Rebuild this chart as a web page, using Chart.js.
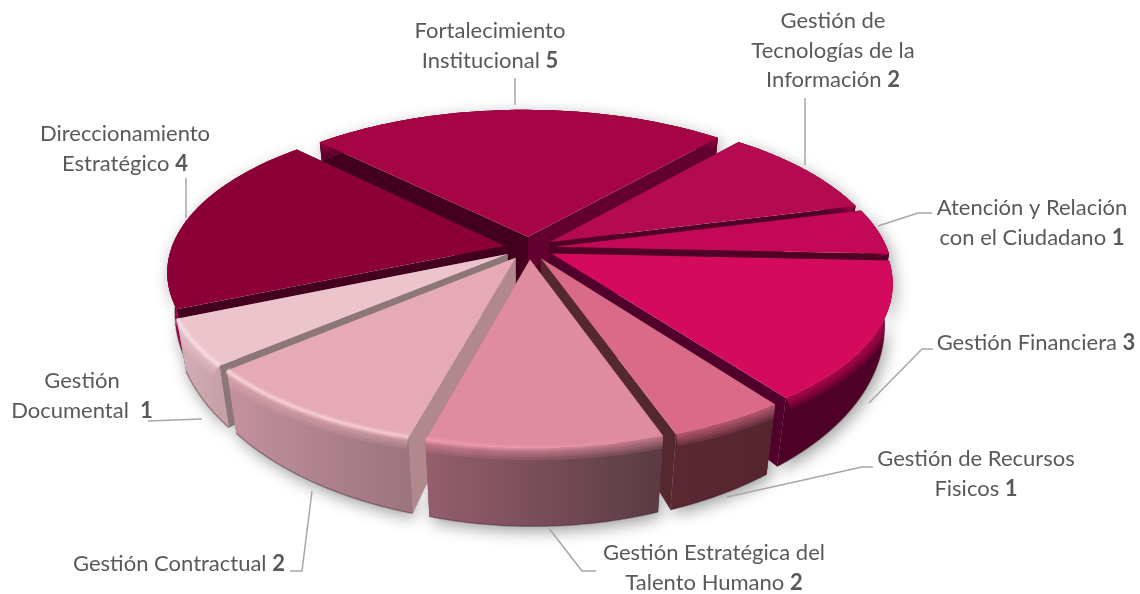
<!DOCTYPE html>
<html>
<head>
<meta charset="utf-8">
<title>Procesos</title>
<script src="https://cdn.jsdelivr.net/npm/chart.js@4"></script>
<style>
  html, body { margin: 0; padding: 0; background: #fff; overflow: hidden; }
  canvas { display: block; }
</style>
</head>
<body>
<canvas id="pieChart" width="1140" height="594"></canvas>
<script>
// --- Data ---
const categories = [
  ['Fortalecimiento', 'Institucional'],
  ['Gestión de', 'Tecnologías de la', 'Información'],
  ['Atención y Relación', 'con el Ciudadano'],
  ['Gestión Financiera'],
  ['Gestión de Recursos', 'Fisicos'],
  ['Gestión Estratégica del', 'Talento Humano'],
  ['Gestión Contractual'],
  ['Gestión', 'Documental '],
  ['Direccionamiento', 'Estratégico']
];
const values = [5, 2, 1, 3, 1, 2, 2, 1, 4];

// --- Colours per slice ---
const topColors = ['#A50545', '#B40A50', '#C40858', '#D40A5C', '#D96A88', '#E08CA0', '#E5AAB6', '#ECC4CC', '#8C0038'];
const startSideColors = ['#43001E', '#640030', '#500024', '#50002A', '#5A2833', '#5A3C44', '#B2888F', '#8C7678', '#43001E'];
const endSideColors = ['#640030', '#500024', '#500024', '#50002A', '#55282F', '#8A5A68', '#B2888F', '#8C7678', '#43001E'];
const wallLeft = ['#640030', '#640030', '#500024', '#4F0026', '#5A2833', '#955E6E', '#C3929E', '#D5AFB7', '#A5064A'];
const wallRight = ['#640030', '#640030', '#500024', '#4F0026', '#552630', '#593B43', '#9B747E', '#C7A0A8', '#8E0038'];
const rimLeft = [null, null, null, null, null, 'rgba(248,160,182,.9)', 'rgba(255,222,230,.95)', 'rgba(255,232,238,.95)', null];
const rimRight = [null, null, null, null, null, 'rgba(248,160,182,0)', 'rgba(255,214,224,.8)', 'rgba(255,226,232,.9)', null];

// --- Label layout (centre x, first baseline middle y) and leader lines ---
const labelSpots = [[490, 31], [833, 21], [1032, 208], [1036, 343], [976, 459], [714, 553], [179, 564], [82, 381], [125, 134]];
const leaders = [
  [[515, 105], [515, 78]],
  [[805, 165], [805, 98]],
  [[878, 226], [918, 213], [932, 213]],
  [[869, 403], [922, 349], [933, 349]],
  [[727, 497], [862, 467], [873, 467]],
  [[548, 527], [582, 571], [596, 571]],
  [[312, 491], [302, 571], [290, 571]],
  [[202, 419], [148, 421]],
  [[186, 218], [186, 178]]
];

// 3D look: top plate is a perspective flattened disc, walls hang below it
const PIE_RX = 333, PIE_RY = 152, TILT = 0.17;

function project(c, nx, ny) {
  const w = 1 - TILT * ny;
  const x = c.x + 2 + 3.5 * ny + PIE_RX * nx / w;
  const y = c.y + PIE_RY * ny / w;
  const h = 38 + 30 * ny + 7 * ny * ny;
  return { x, y, bx: c.x + (x - c.x) * (1 - 0.0005 * h), by: y + h };
}

function slicePoints(el) {
  const p = el.getProps(['x', 'y', 'startAngle', 'endAngle', 'outerRadius'], true);
  const mid = (p.startAngle + p.endAngle) / 2;
  const e = el.options.offset / p.outerRadius;
  const ox = e * Math.cos(mid), oy = e * Math.sin(mid);
  const rim = [];
  const steps = 48;
  for (let i = 0; i <= steps; i++) {
    const a = p.startAngle + (p.endAngle - p.startAngle) * i / steps;
    rim.push(project(p, ox + Math.cos(a), oy + Math.sin(a)));
  }
  return { apex: project(p, ox, oy), rim, depth: Math.sin(mid) };
}

function trace(ctx, pts) {
  ctx.beginPath();
  pts.forEach((q, i) => i ? ctx.lineTo(q[0], q[1]) : ctx.moveTo(q[0], q[1]));
  ctx.closePath();
}

function drawSide(ctx, apex, edge, color) {
  trace(ctx, [[apex.x, apex.y], [edge.x, edge.y], [edge.bx, edge.by], [apex.bx, apex.by]]);
  ctx.fillStyle = color;
  ctx.fill();
}

function wallPath(rim) {
  return rim.map(q => [q.x, q.y]).concat(rim.slice().reverse().map(q => [q.bx, q.by]));
}

function strokeRim(ctx, rim, dy) {
  ctx.beginPath();
  rim.forEach((q, i) => i ? ctx.lineTo(q.x, q.y + dy) : ctx.moveTo(q.x, q.y + dy));
  ctx.stroke();
}

function drawSlice(ctx, s, i) {
  const rim = s.rim;
  const first = rim[0], last = rim[rim.length - 1];
  drawSide(ctx, s.apex, first, startSideColors[i]);
  drawSide(ctx, s.apex, last, endSideColors[i]);

  // outer wall, shaded left to right
  const x0 = Math.min(first.x, last.x), x1 = Math.max(first.x, last.x);
  const g = ctx.createLinearGradient(x0, 0, x1, 0);
  g.addColorStop(0, wallLeft[i]);
  g.addColorStop(1, wallRight[i]);
  trace(ctx, wallPath(rim));
  ctx.fillStyle = g;
  ctx.fill();

  // bevel: top colour bleeds into the wall
  ctx.save();
  trace(ctx, wallPath(rim));
  ctx.clip();
  ctx.strokeStyle = topColors[i];
  ctx.lineJoin = 'round';
  [24, 18, 13, 8, 4].forEach(lw => {
    ctx.globalAlpha = 0.2;
    ctx.lineWidth = lw;
    strokeRim(ctx, rim, 0);
  });
  ctx.restore();

  // bottom edge
  ctx.beginPath();
  rim.forEach((q, k) => k ? ctx.lineTo(q.bx, q.by) : ctx.moveTo(q.bx, q.by));
  ctx.strokeStyle = 'rgba(60,25,35,.35)';
  ctx.lineWidth = 1.5;
  ctx.stroke();

  // top plate
  trace(ctx, [[s.apex.x, s.apex.y]].concat(rim.map(q => [q.x, q.y])));
  ctx.fillStyle = topColors[i];
  ctx.fill();

  if (rimLeft[i]) {
    const h = ctx.createLinearGradient(x0, 0, x1, 0);
    h.addColorStop(0, rimLeft[i]);
    h.addColorStop(1, rimRight[i]);
    ctx.save();
    ctx.strokeStyle = h;
    ctx.globalAlpha = 0.3;
    ctx.lineWidth = 7;
    strokeRim(ctx, rim, 0);
    ctx.globalAlpha = 0.6;
    ctx.lineWidth = 3;
    strokeRim(ctx, rim, 0);
    ctx.restore();
  }
}

const pie3d = {
  id: 'pie3d',
  beforeDatasetsDraw(chart) {
    const ctx = chart.ctx;
    const arcs = chart.getDatasetMeta(0).data;
    const slices = arcs.map((el, i) => ({ i, ...slicePoints(el) }));

    // soft shadow under the whole pie
    ctx.save();
    ctx.shadowColor = 'rgba(0,0,0,.38)';
    ctx.shadowBlur = 16;
    ctx.shadowOffsetY = 5;
    ctx.shadowOffsetX = 3;
    ctx.fillStyle = '#888';
    slices.forEach(s => {
      trace(ctx, wallPath(s.rim));
      ctx.fill();
    });
    ctx.restore();

    // dark hub so no white shows through where the slices meet
    ctx.fillStyle = '#43001E';
    slices.forEach((s, n) => {
      const a = s.apex, b = slices[(n + 1) % slices.length].apex;
      trace(ctx, [[a.x, a.y], [a.bx, a.by], [b.bx, b.by], [b.x, b.y]]);
      ctx.fill();
    });
    trace(ctx, slices.map(s => [s.apex.bx, s.apex.by]));
    ctx.fill();
    trace(ctx, slices.map(s => [s.apex.x, s.apex.y]));
    ctx.fill();

    // back to front
    slices.slice().sort((a, b) => a.depth - b.depth).forEach(s => drawSlice(ctx, s, s.i));
    return false;
  },
  afterDraw(chart) {
    const ctx = chart.ctx;
    ctx.save();
    ctx.strokeStyle = '#A6A6A6';
    ctx.lineWidth = 1.5;
    leaders.forEach(line => {
      ctx.beginPath();
      line.forEach((q, i) => i ? ctx.lineTo(q[0], q[1]) : ctx.moveTo(q[0], q[1]));
      ctx.stroke();
    });

    ctx.textBaseline = 'middle';
    ctx.textAlign = 'left';
    ctx.fillStyle = '#595959';
    const normal = '22px Lato', bold = 'bold 22px Lato';
    categories.forEach((lines, i) => {
      lines.forEach((txt, n) => {
        const y = labelSpots[i][1] + n * 29.5;
        const isLast = n === lines.length - 1;
        const head = isLast ? txt + ' ' : txt;
        const tail = isLast ? String(values[i]) : '';
        ctx.font = normal;
        const w1 = ctx.measureText(head).width;
        ctx.font = bold;
        const w2 = ctx.measureText(tail).width;
        const x = labelSpots[i][0] - (w1 + w2) / 2;
        ctx.font = normal;
        ctx.fillText(head, x, y);
        ctx.font = bold;
        ctx.fillText(tail, x + w1, y);
      });
    });
    ctx.restore();
  }
};

new Chart(document.getElementById('pieChart'), {
  type: 'pie',
  data: {
    labels: categories.map(c => c.join(' ')),
    datasets: [{
      data: values,
      backgroundColor: topColors,
      borderWidth: 0,
      offset: 18
    }]
  },
  options: {
    responsive: false,
    animation: false,
    rotation: -44.5,
    layout: { padding: { right: 86, bottom: 98 } },
    plugins: { legend: { display: false }, tooltip: { enabled: false } }
  },
  plugins: [pie3d]
});
</script>
</body>
</html>
